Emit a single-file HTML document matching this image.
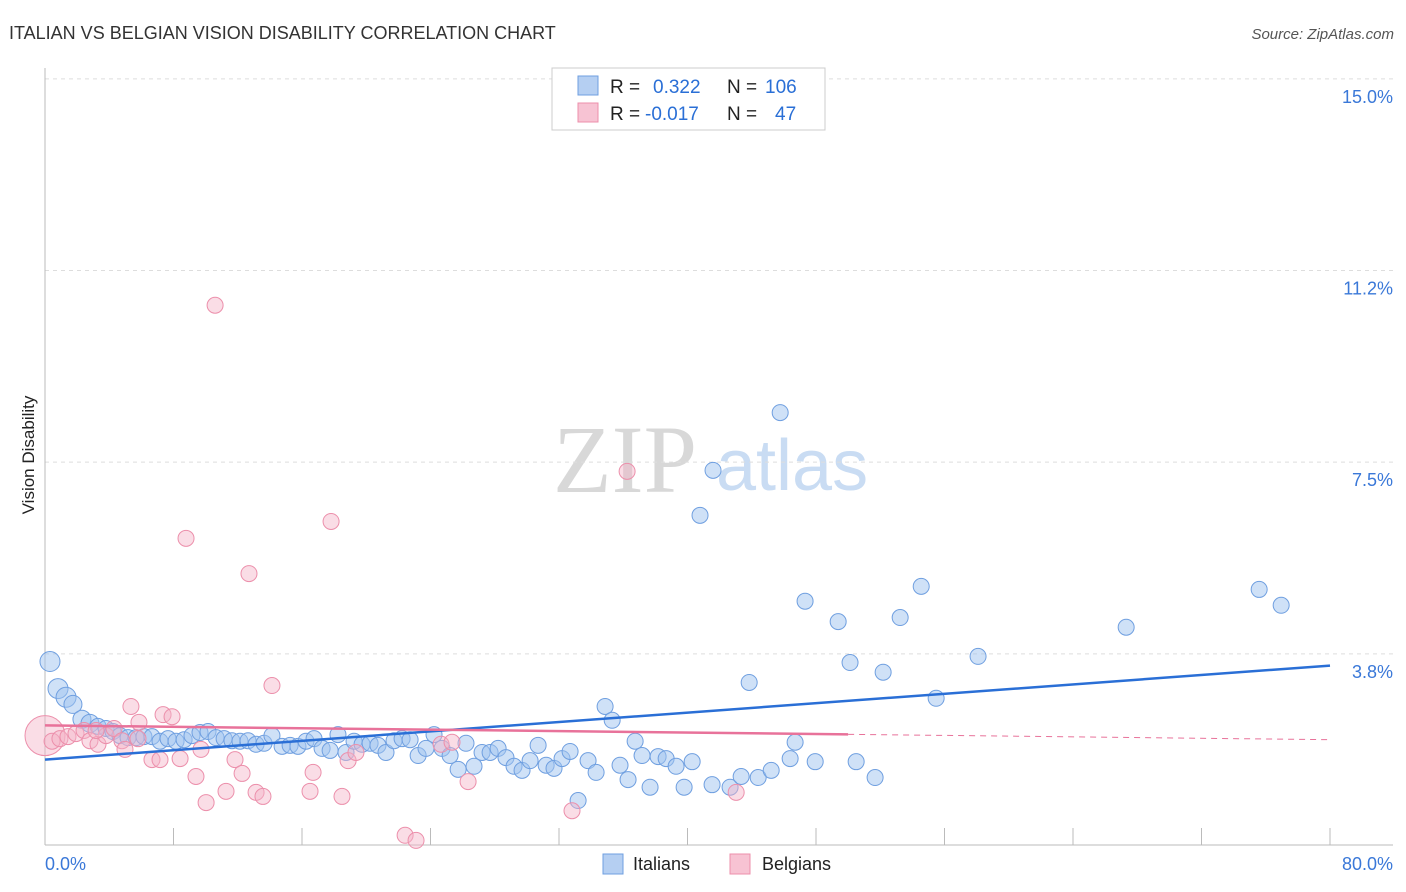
<!DOCTYPE html>
<html><head><meta charset="utf-8"><style>
body{margin:0;background:#fff;font-family:"Liberation Sans",sans-serif;}
svg{display:block}
</style></head><body>
<svg id="chart" width="1406" height="892" xmlns="http://www.w3.org/2000/svg">
<text x="9" y="39" font-size="18" fill="#333">ITALIAN VS BELGIAN VISION DISABILITY CORRELATION CHART</text>
<text x="1394" y="39" font-size="15" fill="#555" font-style="italic" text-anchor="end">Source: ZipAtlas.com</text>
<text x="34" y="455" font-size="17" fill="#222" text-anchor="middle" transform="rotate(-90 34 455)">Vision Disability</text>
<g>
<text x="553" y="492" font-size="96" font-family="Liberation Serif,serif" fill="#d8d8d8">ZIP</text>
<text x="716" y="490" font-size="72" fill="#c9dcf3">atlas</text>
</g>
<g id="grid"></g><g id="axes"></g><g id="marks"></g><g id="lines"></g>
<g>
<rect x="552" y="68" width="273" height="62" fill="#fff" stroke="#ccc"/>
<rect x="578" y="76" width="20" height="19" fill="#b5cff2" stroke="#6f9fe0"/>
<rect x="578" y="103" width="20" height="19" fill="#f7c3d3" stroke="#ec8fab"/>
<text x="610" y="93" font-size="19" fill="#222">R = <tspan fill="#2a6fd6" x="653">0.322</tspan><tspan x="727" fill="#222">N =</tspan><tspan fill="#2a6fd6" x="765">106</tspan></text>
<text x="610" y="120" font-size="19" fill="#222">R = <tspan fill="#2a6fd6" x="645">-0.017</tspan><tspan x="727" fill="#222">N =</tspan><tspan fill="#2a6fd6" x="775">47</tspan></text>
</g>
<g>
<rect x="603" y="854" width="20" height="20" fill="#b5cff2" stroke="#6f9fe0"/>
<text x="633" y="870" font-size="18" fill="#222">Italians</text>
<rect x="730" y="854" width="20" height="20" fill="#f7c3d3" stroke="#ec8fab"/>
<text x="762" y="870" font-size="18" fill="#222">Belgians</text>
</g>
</svg>
<script>
const yTicks=[3.75,7.5,11.25,15];
const yTickLabels=["3.8%","7.5%","11.2%","15.0%"];
const xTickLabels=["0.0%","80.0%"];
const italianX=[.31,.81,1.31,1.74,2.30,2.80,3.30,3.80,4.23,4.67,5.17,5.67,6.16,6.66,7.16,7.66,8.16,8.66,9.15,9.65,10.15,10.65,11.15,11.64,12.14,12.64,13.14,13.64,14.13,14.76,15.26,15.75,16.25,16.75,17.25,17.75,18.24,18.74,19.24,19.74,20.24,20.73,21.23,21.73,22.23,22.73,23.23,23.72,24.22,24.72,25.22,25.72,26.21,26.71,27.21,27.71,28.21,28.70,29.20,29.70,30.20,30.70,31.20,31.69,32.19,32.69,33.19,33.81,34.31,34.87,35.31,35.80,36.30,36.74,37.17,37.67,38.17,38.67,39.29,39.79,40.29,40.78,41.59,41.53,42.65,43.34,43.84,44.40,45.21,45.77,46.39,46.70,47.32,47.95,49.38,50.12,50.50,51.68,52.18,53.24,54.55,55.48,58.09,67.31,75.59,76.96];
const italianY=[3.60,3.07,2.90,2.76,2.47,2.39,2.33,2.29,2.23,2.15,2.11,2.11,2.13,2.13,2.04,2.09,2.04,2.07,2.15,2.21,2.23,2.11,2.09,2.05,2.04,2.05,1.98,2.00,2.15,1.94,1.96,1.94,2.04,2.09,1.90,1.86,2.17,1.82,2.04,1.98,2.00,1.96,1.82,2.05,2.09,2.07,1.76,1.90,2.17,1.90,1.76,1.49,2.00,1.55,1.82,1.82,1.90,1.72,1.55,1.47,1.66,1.96,1.57,1.51,1.70,1.84,0.88,1.66,1.43,2.72,2.45,1.57,1.29,2.04,1.76,1.14,1.74,1.70,1.55,1.14,1.64,6.46,7.34,1.19,1.14,1.35,3.19,1.33,1.47,8.47,1.70,2.02,4.78,1.64,4.38,3.58,1.64,1.33,3.39,4.46,5.07,2.88,3.70,4.27,5.01,4.70];
const belgianX=[0,.44,.93,1.43,1.93,2.43,2.80,3.30,3.80,4.30,4.79,4.98,5.35,5.79,6.66,7.16,7.35,7.91,8.41,8.78,9.40,9.71,10.03,10.59,11.27,11.83,12.27,12.70,13.14,13.57,14.13,16.50,16.69,17.81,18.49,18.87,19.36,22.42,23.10,24.66,25.34,26.34,32.81,36.24,43.03,3.18,5.85];
const belgianY=[2.15,2.04,2.09,2.13,2.19,2.25,2.05,1.98,2.15,2.29,2.05,1.88,2.72,2.09,1.68,1.68,2.56,2.52,1.70,6.01,1.35,1.88,0.84,10.57,1.06,1.68,1.41,5.32,1.04,0.96,3.13,1.06,1.43,6.34,0.96,1.66,1.82,0.20,0.10,1.98,2.02,1.25,0.68,7.32,1.04,2.25,2.41];
const italianTrend=[1.68,3.52]; // at x=0 and x=80
const belgianTrend=[2.35,2.07];  // at x=0 and x=80
const belgianSolidEnd=50;
const NS="http://www.w3.org/2000/svg";
const X=v=>45+v*(1330-45)/80, Y=v=>845.5-v*(654-79)/11.25;
function mk(p,t,a){const e=document.createElementNS(NS,t);for(const k in a)e.setAttribute(k,a[k]);p.appendChild(e);return e;}
const grid=document.getElementById('grid'),axes=document.getElementById('axes'),marks=document.getElementById('marks'),lines=document.getElementById('lines');
yTicks.forEach((t,i)=>{
 const l=mk(grid,'line',{x1:45,x2:1393,y1:Y(t),y2:Y(t),stroke:'#ddd','stroke-dasharray':'4,4'});
 
 
 const tx=mk(grid,'text',{x:1393,y:Y(t)+24,'font-size':18,fill:'#3a78d8','text-anchor':'end'});
 tx.textContent=yTickLabels[i];
 
 
});
let a=mk(axes,'line',{x1:45,x2:45,y1:68,y2:845,stroke:'#bbb'});


a=mk(axes,'line',{x1:45,x2:1393,y1:845,y2:845,stroke:'#bbb'});


for(let i=1;i<=10;i++){
 const t=mk(axes,'line',{x1:X(i*8),x2:X(i*8),y1:828,y2:845,stroke:'#bbb'});
 
 
}
let xl=mk(axes,'text',{x:45,y:870,'font-size':18,fill:'#3a78d8'});xl.textContent=xTickLabels[0];


xl=mk(axes,'text',{x:1393,y:870,'font-size':18,fill:'#3a78d8','text-anchor':'end'});xl.textContent=xTickLabels[1];


italianX.forEach((x,i)=>{
 const r=i<3?10:(i<6?9:8);
 const c=mk(marks,'circle',{cx:X(x),cy:Y(italianY[i]),r:r,fill:'rgba(160,195,240,0.5)',stroke:'#6f9fe0','stroke-width':1});
 
 
});
belgianX.forEach((x,i)=>{
 const r=i===0?20:8;
 const c=mk(marks,'circle',{cx:X(x),cy:Y(belgianY[i]),r:r,fill:'rgba(245,180,200,0.45)',stroke:'#ec8fab','stroke-width':1});
 
 
});
let tl=mk(lines,'line',{x1:X(0),y1:Y(italianTrend[0]),x2:X(80),y2:Y(italianTrend[1]),stroke:'#2a6fd6','stroke-width':2.5});


const bm=belgianTrend[0]+(belgianTrend[1]-belgianTrend[0])*belgianSolidEnd/80;
tl=mk(lines,'line',{x1:X(0),y1:Y(belgianTrend[0]),x2:X(belgianSolidEnd),y2:Y(bm),stroke:'#e8729a','stroke-width':2.5});


tl=mk(lines,'line',{x1:X(belgianSolidEnd),y1:Y(bm),x2:X(80),y2:Y(belgianTrend[1]),stroke:'#e8729a','stroke-width':1,'stroke-dasharray':'6,5'});


</script>
</body></html>
